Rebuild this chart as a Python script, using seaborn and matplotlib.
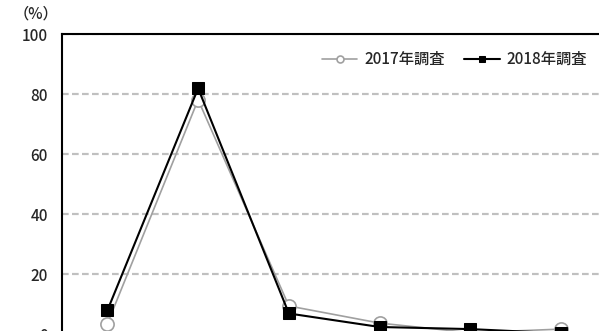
import numpy as np
import pandas as pd
import matplotlib
matplotlib.use('Agg')
import matplotlib.pyplot as plt
import seaborn as sns

# values (%)
categories = ['1', '2', '3', '4', '5', '6']
values_2017 = [3.6, 78.2, 9.5, 3.8, 0.6, 1.8]
values_2018 = [8.0, 82.0, 7.0, 2.5, 1.8, 0.4]
y_ticks = [0, 20, 40, 60, 80, 100]

sns.set_style('white')
plt.rcParams['font.family'] = ['Noto Sans CJK JP', 'DejaVu Sans']

df = pd.DataFrame({'pos': np.arange(len(categories)),
                   '2017年調査': values_2017,
                   '2018年調査': values_2018})

fig = plt.figure(figsize=(5.99, 3.31), dpi=100)
ax = fig.add_axes([62 / 599, -3.5 / 331, 544.5 / 599, 300.2 / 331])

sns.lineplot(ax=ax, data=df, x='pos', y='2017年調査', color='#a0a0a0', lw=1.2,
             marker='o', markersize=9.5, markerfacecolor='white',
             markeredgecolor='#a0a0a0', markeredgewidth=1.2, label='2017年調査')
sns.lineplot(ax=ax, data=df, x='pos', y='2018年調査', color='black', lw=1.5,
             marker='s', markersize=8, markerfacecolor='black',
             markeredgecolor='black', label='2018年調査')

ax.set_xlim(-0.5, len(categories) - 0.5)
ax.set_ylim(0, 100)
ax.set_yticks(y_ticks)
ax.set_yticklabels([str(v) for v in y_ticks], fontsize=11, fontweight='medium')
ax.tick_params(axis='y', length=0, pad=10)
ax.set_xticks(np.arange(len(categories) - 1) + 0.5)
ax.set_xticklabels([])
ax.tick_params(axis='x', direction='in', length=3, color='black')
ax.set_xlabel('')
ax.set_ylabel('')

ax.yaxis.grid(True, linestyle=(0, (3, 1.5)), color='#c0c0c0', lw=1.6)
ax.xaxis.grid(False)
ax.set_axisbelow(True)
for s in ['left', 'top', 'bottom']:
    ax.spines[s].set_color('black')
    ax.spines[s].set_linewidth(1.5)
ax.spines['right'].set_visible(False)

leg = ax.legend(loc='upper right', bbox_to_anchor=(593 / 599, 1 - 45 / 331),
                bbox_transform=fig.transFigure, ncol=2, frameon=False,
                prop={'size': 11, 'weight': 'medium'}, handlelength=2.3,
                columnspacing=1.3, handletextpad=0.45, borderaxespad=0)
for h in leg.legend_handles:
    h.set_markersize(5)

fig.text(14 / 599, 1 - 14 / 331, '（%）', fontsize=11, fontweight='medium',
         va='center', ha='left')

plt.savefig('out.png', dpi=100)
